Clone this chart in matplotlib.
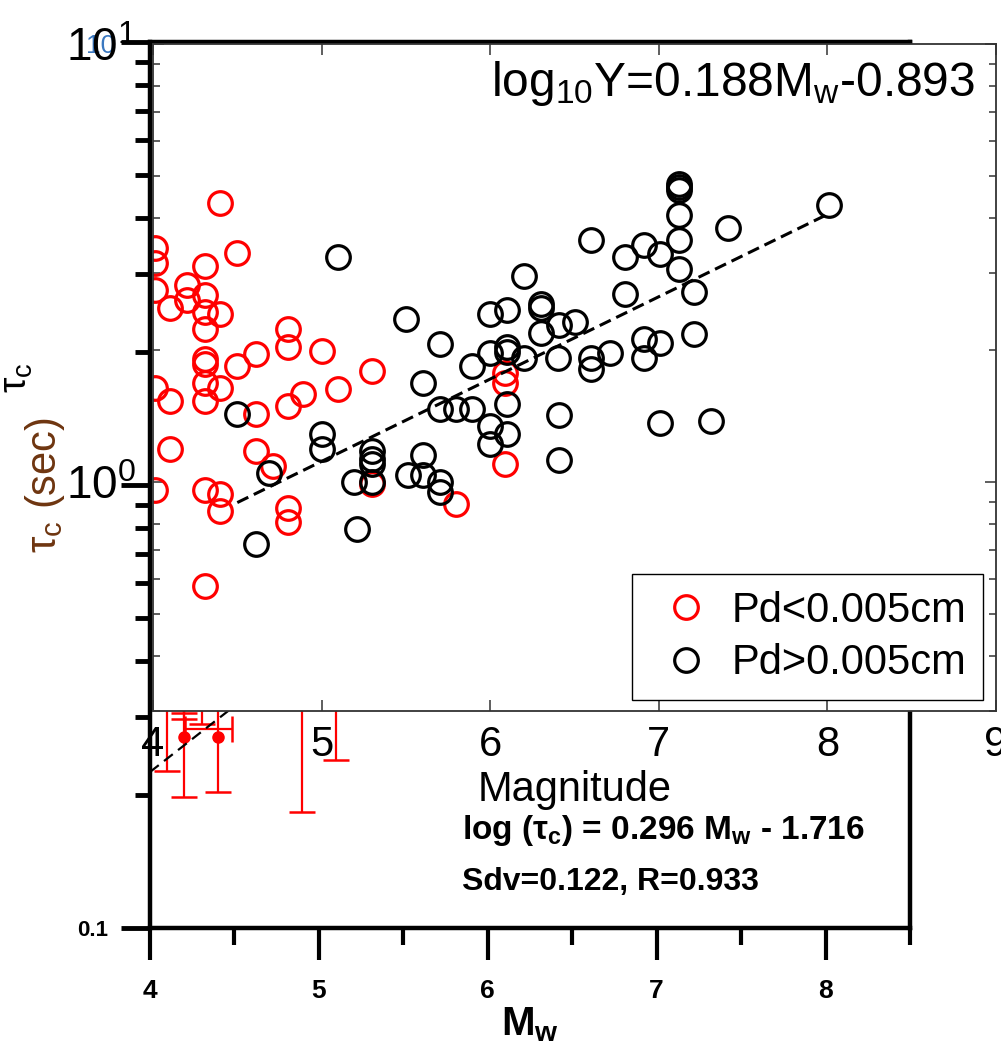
import numpy as np
import matplotlib
matplotlib.use('Agg')
import matplotlib.pyplot as plt
from matplotlib.ticker import NullFormatter

# inset (front) panel: tau_c vs Mw split by Pd
red_mw = [4.40, 4.01, 4.01, 4.50, 4.31, 4.01, 4.20, 4.10, 4.20, 4.31, 4.31, 4.40,
          4.31, 4.80, 4.80, 4.61, 4.50, 5.00, 4.31, 4.31, 5.30, 4.31, 4.40, 4.01,
          5.10, 4.31, 4.10, 4.89, 4.80, 4.61, 4.10, 4.61, 4.71, 4.01, 4.31, 4.40,
          4.40, 4.80, 4.80, 5.30, 5.80, 6.09, 6.09, 6.09, 4.31]
red_tc = [4.33, 3.43, 3.17, 3.34, 3.12, 2.74, 2.81, 2.50, 2.60, 2.67, 2.44, 2.42,
          2.24, 2.24, 2.03, 1.96, 1.84, 1.99, 1.91, 1.86, 1.79, 1.68, 1.64, 1.64,
          1.63, 1.53, 1.53, 1.59, 1.49, 1.43, 1.19, 1.18, 1.09, 0.96, 0.96, 0.94,
          0.86, 0.87, 0.81, 0.99, 0.89, 1.10, 1.68, 1.77, 0.58]

blk_mw = [5.10, 4.50, 4.69, 5.00, 5.00, 5.19, 5.30, 5.30, 5.30, 5.30, 5.21, 4.61,
          5.50, 5.70, 5.60, 5.70, 5.80, 5.89, 5.51, 5.60, 5.60, 5.70, 5.70,
          7.12, 7.12, 7.12, 7.12, 7.12, 7.12, 6.60, 6.80, 6.91, 7.01, 7.41, 8.01,
          7.21, 6.80, 6.20, 6.30, 6.30, 6.00, 6.10, 6.30, 6.41, 6.50, 7.21, 6.91,
          7.01, 6.91, 6.71, 6.60, 6.60, 6.40, 6.20, 6.10, 6.10, 6.00, 5.89, 6.10,
          6.00, 6.10, 6.00, 6.41, 6.41, 7.01, 7.31]
blk_tc = [3.26, 1.43, 1.05, 1.29, 1.19, 1.00, 1.18, 1.13, 1.10, 1.00, 0.78, 0.72,
          2.36, 2.07, 1.68, 1.47, 1.47, 1.47, 1.04, 1.15, 1.04, 1.00, 0.95,
          4.80, 4.71, 4.63, 4.06, 3.56, 3.07, 3.56, 3.27, 3.47, 3.32, 3.81, 4.28,
          2.71, 2.69, 2.96, 2.55, 2.50, 2.42, 2.47, 2.19, 2.28, 2.32, 2.18, 2.12,
          2.08, 1.92, 1.97, 1.92, 1.81, 1.92, 1.92, 2.03, 1.98, 1.97, 1.84, 1.51,
          1.34, 1.29, 1.22, 1.42, 1.12, 1.36, 1.38]

fit_slope, fit_icpt = 0.188, -0.893
fit_mw = np.array([4.5, 8.0])

# back panel: only the low ends of its error bars show below the inset
bar_mw = [4.10, 4.20, 4.40, 4.90, 5.10, 4.20, 4.20, 4.31]
bar_tc = [0.45, 0.27, 0.27, 0.50, 0.42, 0.40, 0.40, 0.36]
bar_lo = [0.226, 0.198, 0.203, 0.183, 0.240, 0.306, 0.296, 0.288]
bar_hi = [0.60, 0.40, 0.40, 0.70, 0.55, 0.50, 0.50, 0.45]
dot_mw = [4.20, 4.40]
dot_tc = [0.27, 0.27]
hbar_mw, hbar_tc, hbar_left, hbar_right = 4.40, 0.281, 0.19, 0.085
bg_fit_mw = [4.0, 4.5]
bg_fit_tc = [0.225, 0.317]

W, H = 1001, 1050
fig = plt.figure(figsize=(W / 100, H / 100), dpi=100)


def box(l, t, r, b):
    return [l / W, 1 - b / H, (r - l) / W, (b - t) / H]


narrow = ['Liberation Sans Narrow', 'Liberation Sans', 'DejaVu Sans']
helv = ['Liberation Sans', 'DejaVu Sans']

# ---- back axes
bg = fig.add_axes(box(150, 42, 910, 928), zorder=1)
bg.set_xlim(4, 8.5)
bg.set_yscale('log')
bg.set_ylim(0.1, 10)
for s in bg.spines.values():
    s.set_linewidth(3.2)
bg.set_xticks([4, 5, 6, 7, 8], ['4', '5', '6', '7', '8'],
              fontfamily=narrow, fontweight='bold', fontsize=19)
bg.set_xticks([4.5, 5.5, 6.5, 7.5, 8.5], minor=True)
bg.set_yticks([0.1, 1, 10], ['0.1', '', ''],
              fontfamily=narrow, fontweight='bold', fontsize=16)
bg.yaxis.set_minor_formatter(NullFormatter())
bg.tick_params(axis='x', which='major', direction='out', length=23, width=3, pad=14)
bg.tick_params(axis='x', which='minor', direction='out', length=12, width=3)
bg.tick_params(axis='y', which='major', direction='out', length=21, width=3.5, pad=9)
bg.tick_params(axis='y', which='minor', direction='out', length=11, width=3.5)

bg.errorbar(bar_mw, bar_tc,
            yerr=[np.array(bar_tc) - np.array(bar_lo), np.array(bar_hi) - np.array(bar_tc)],
            fmt='none', ecolor='red', elinewidth=1.6, capsize=9.5, capthick=1.8)
bg.errorbar([hbar_mw], [hbar_tc], xerr=[[hbar_left], [hbar_right]],
            fmt='none', ecolor='red', elinewidth=1.6, capsize=9.5, capthick=1.8)
bg.plot(dot_mw, dot_tc, 'o', color='red', ms=8)
bg.plot(bg_fit_mw, bg_fit_tc, '--', color='black', lw=1.6, dashes=(5, 3))

bg.text(0.41, 0.11, 'log (τ$_\\mathregular{c}$) = 0.296 M$_\\mathregular{w}$ - 1.716',
        transform=bg.transAxes, fontfamily=narrow, fontweight='bold', fontsize=24,
        va='center', ha='left')
bg.text(0.41, 0.052, 'Sdv=0.122, R=0.933', transform=bg.transAxes,
        fontfamily=narrow, fontweight='bold', fontsize=23, va='center', ha='left')
bg.set_xlabel('M$_\\mathregular{w}$', fontfamily=narrow, fontweight='bold', fontsize=29)
bg.xaxis.set_label_coords(0.5, -0.087)
bg.set_ylabel('τ$_\\mathregular{c}$ (sec)', fontfamily=helv, fontsize=30, color='#6e3510')
bg.yaxis.set_label_coords(-0.109, 0.5)

# ---- inset axes on top
ov = fig.add_axes(box(153, 44, 996, 711), zorder=2)
ov.set_facecolor('white')
ov.set_xlim(4, 9)
ov.set_yscale('log')
ov.set_ylim(0.3, 10)
for s in ov.spines.values():
    s.set_linewidth(1.3)
    s.set_color('#333333')
ov.set_xticks([4, 5, 6, 7, 8, 9], ['4', '5', '6', '7', '8', '9'],
              fontfamily=helv, fontsize=30)
ov.set_yticks([1, 10], ['$\\mathregular{10^{0}}$', '$\\mathregular{10^{1}}$'],
              fontfamily=helv, fontsize=33)
ov.yaxis.set_minor_formatter(NullFormatter())
ov.tick_params(which='both', direction='in', top=True, right=True, color='#333333', width=1.1)
ov.tick_params(which='major', length=8)
ov.tick_params(which='minor', length=5)
ov.tick_params(axis='x', pad=10)
ov.tick_params(axis='y', pad=12)

ov.plot(red_mw, red_tc, 'o', mfc='none', mec='red', ms=17, mew=2.3, ls='none',
        label='Pd<0.005cm')
ov.plot(blk_mw, blk_tc, 'o', mfc='none', mec='black', ms=17, mew=2.3, ls='none',
        label='Pd>0.005cm')
ov.plot(fit_mw, 10 ** (fit_slope * fit_mw + fit_icpt), '--', color='black', lw=2.2,
        dashes=(4, 2))

ov.text(0.975, 0.978, 'log$_\\mathregular{10}$Y=0.188M$_\\mathregular{w}$-0.893',
        transform=ov.transAxes, ha='right', va='top', fontfamily=helv, fontsize=34.5)
ov.set_xlabel('Magnitude', fontfamily=helv, fontsize=30, labelpad=4)
ov.set_ylabel('τ$_\\mathregular{c}$', fontfamily=helv, fontsize=28)
ov.yaxis.set_label_coords(-0.14, 0.5)

leg = ov.legend(loc='lower right', bbox_to_anchor=((983 - 153) / 843, (711 - 700) / 667),
                borderaxespad=0, handletextpad=0.2, labelspacing=0.3,
                borderpad=0.4, fancybox=False, framealpha=1, edgecolor='black',
                handlelength=1.8, prop={'family': helv, 'size': 30})
leg.get_frame().set_linewidth(1.0)

# faint misprinted "10" behind the top label
fig.text(101 / W, 1 - 46 / H, '10', color='#3b78c0', fontsize=19, ha='center',
         va='center', zorder=0.5, fontfamily=helv)

fig.savefig('out.png', dpi=100)
